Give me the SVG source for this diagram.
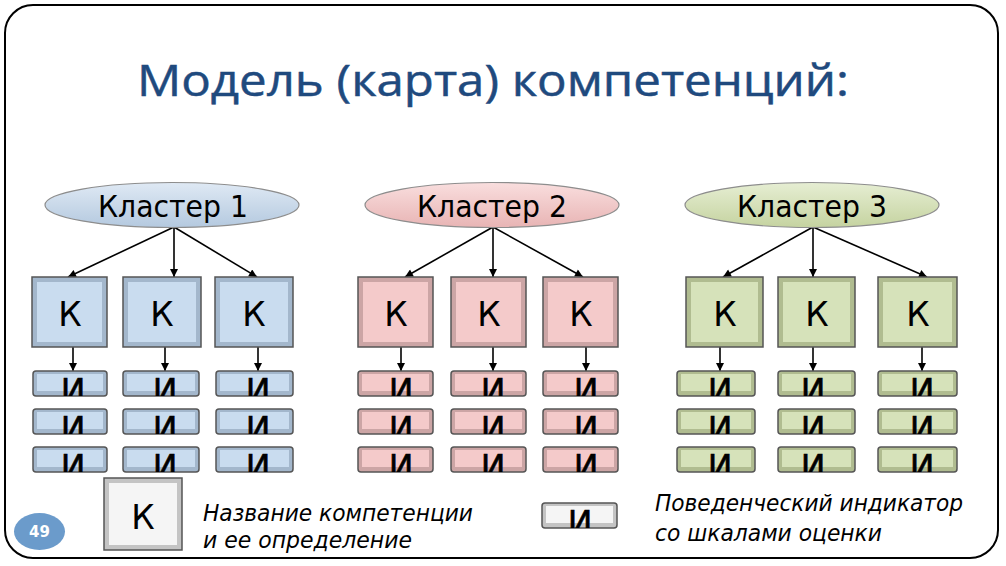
<svg xmlns="http://www.w3.org/2000/svg" width="1006" height="566" viewBox="0 0 1006 566">
<style>
.ctext{font-family:"DejaVu Sans",Verdana,sans-serif;font-size:30px;fill:#000;text-anchor:middle}
.ktext{font-family:"DejaVu Sans",Verdana,sans-serif;font-size:33px;fill:#000;text-anchor:middle}
.itext{font-family:"DejaVu Sans",Verdana,sans-serif;font-size:33px;fill:#000;text-anchor:middle;stroke:#000;stroke-width:0.6}
.leg{font-family:"DejaVu Sans",Verdana,sans-serif;font-size:23px;font-style:italic;fill:#000}
.ob{stroke:#555;stroke-width:1.5}
.ib{stroke:none}
.b .ob{fill:#a3b7cc}.b .ib{fill:#c9dcef}
.p .ob{fill:#cca5a5}.p .ib{fill:#f4caca}
.g .ob{fill:#b0bc90}.g .ib{fill:#d6e2ba}
.w .ob{fill:#c4c4c4}.w .ib{fill:#f5f5f5}
.conn line{stroke:#000;stroke-width:1.6;marker-end:url(#ah)}
.ell{stroke:#8d8d8d;stroke-width:1.2}
</style>
<defs>
<marker id="ah" viewBox="0 0 10 10" refX="10" refY="5" markerWidth="9" markerHeight="8" markerUnits="userSpaceOnUse" orient="auto">
<path d="M0,0 L10,5 L0,10 z" fill="#000"/>
</marker>
<linearGradient id="gb" x1="0" y1="0" x2="0" y2="1"><stop offset="0" stop-color="#dfe9f4"/><stop offset="1" stop-color="#b4c9df"/></linearGradient>
<linearGradient id="gp" x1="0" y1="0" x2="0" y2="1"><stop offset="0" stop-color="#f9dede"/><stop offset="1" stop-color="#e8b4b4"/></linearGradient>
<linearGradient id="gg" x1="0" y1="0" x2="0" y2="1"><stop offset="0" stop-color="#e6eed3"/><stop offset="1" stop-color="#c5d3a0"/></linearGradient>
<clipPath id="barclip">
<rect x="33" y="371" width="74" height="25"/><rect x="123" y="371" width="76" height="25"/><rect x="216" y="371" width="77" height="25"/>
<rect x="33" y="409" width="74" height="25"/><rect x="123" y="409" width="76" height="25"/><rect x="216" y="409" width="77" height="25"/>
<rect x="33" y="447" width="74" height="25"/><rect x="123" y="447" width="76" height="25"/><rect x="216" y="447" width="77" height="25"/>
<rect x="358" y="371" width="75" height="25"/><rect x="451" y="371" width="75" height="25"/><rect x="543" y="371" width="75" height="25"/>
<rect x="358" y="409" width="75" height="25"/><rect x="451" y="409" width="75" height="25"/><rect x="543" y="409" width="75" height="25"/>
<rect x="358" y="447" width="75" height="25"/><rect x="451" y="447" width="75" height="25"/><rect x="543" y="447" width="75" height="25"/>
<rect x="677" y="371" width="78" height="25"/><rect x="778" y="371" width="77" height="25"/><rect x="878" y="371" width="79" height="25"/>
<rect x="677" y="409" width="78" height="25"/><rect x="778" y="409" width="77" height="25"/><rect x="878" y="409" width="79" height="25"/>
<rect x="677" y="447" width="78" height="25"/><rect x="778" y="447" width="77" height="25"/><rect x="878" y="447" width="79" height="25"/>
<rect x="542" y="503" width="75" height="25"/>
</clipPath>
</defs>

<rect x="5" y="5" width="993" height="553" rx="28" ry="28" fill="#fff" stroke="#000" stroke-width="2"/>

<g id="title">
<text x="137" y="96" textLength="712" lengthAdjust="spacingAndGlyphs" style="font-family:'Open Sans','DejaVu Sans',sans-serif;font-size:44px;fill:#1f4a7e;stroke:#1f4a7e;stroke-width:0.5">Модель (карта) компетенций:</text>
</g>

<g id="connectors" class="conn">
<line x1="174" y1="227" x2="68" y2="277"/>
<line x1="174" y1="227" x2="174" y2="277"/>
<line x1="174" y1="227" x2="257" y2="277"/>
<line x1="493" y1="227" x2="405" y2="277"/>
<line x1="493" y1="227" x2="493" y2="277"/>
<line x1="493" y1="227" x2="583" y2="277"/>
<line x1="813" y1="227" x2="723" y2="277"/>
<line x1="813" y1="227" x2="813" y2="277"/>
<line x1="813" y1="227" x2="927" y2="277"/>
<line x1="73" y1="347" x2="73" y2="371"/>
<line x1="165" y1="347" x2="165" y2="371"/>
<line x1="258" y1="347" x2="258" y2="371"/>
<line x1="401" y1="347" x2="401" y2="371"/>
<line x1="493" y1="347" x2="493" y2="371"/>
<line x1="586" y1="347" x2="586" y2="371"/>
<line x1="720" y1="347" x2="720" y2="371"/>
<line x1="813" y1="347" x2="813" y2="371"/>
<line x1="922" y1="347" x2="922" y2="371"/>
</g>

<g id="cluster1">
<ellipse class="ell" cx="172" cy="205" rx="127" ry="22.5" fill="url(#gb)"/>
<text class="ctext" x="173" y="217" textLength="150" lengthAdjust="spacingAndGlyphs">Кластер 1</text>
</g>
<g id="cluster2">
<ellipse class="ell" cx="492" cy="205" rx="127" ry="22.5" fill="url(#gp)"/>
<text class="ctext" x="492" y="217" textLength="150" lengthAdjust="spacingAndGlyphs">Кластер 2</text>
</g>
<g id="cluster3">
<ellipse class="ell" cx="812" cy="205" rx="127" ry="22.5" fill="url(#gg)"/>
<text class="ctext" x="812" y="217" textLength="150" lengthAdjust="spacingAndGlyphs">Кластер 3</text>
</g>

<g id="k1-1" class="b"><rect class="ob" x="32" y="277" width="75" height="70"/><rect class="ib" x="37" y="282" width="65" height="60"/><text class="ktext" x="70" y="326">К</text></g>
<g id="k1-2" class="b"><rect class="ob" x="123" y="277" width="78" height="70"/><rect class="ib" x="128" y="282" width="68" height="60"/><text class="ktext" x="162" y="326">К</text></g>
<g id="k1-3" class="b"><rect class="ob" x="215" y="277" width="78" height="70"/><rect class="ib" x="220" y="282" width="68" height="60"/><text class="ktext" x="254" y="326">К</text></g>
<g id="k2-1" class="p"><rect class="ob" x="358" y="277" width="75" height="70"/><rect class="ib" x="363" y="282" width="65" height="60"/><text class="ktext" x="396" y="326">К</text></g>
<g id="k2-2" class="p"><rect class="ob" x="451" y="277" width="75" height="70"/><rect class="ib" x="456" y="282" width="65" height="60"/><text class="ktext" x="489" y="326">К</text></g>
<g id="k2-3" class="p"><rect class="ob" x="543" y="277" width="75" height="70"/><rect class="ib" x="548" y="282" width="65" height="60"/><text class="ktext" x="581" y="326">К</text></g>
<g id="k3-1" class="g"><rect class="ob" x="686" y="277" width="77" height="70"/><rect class="ib" x="691" y="282" width="67" height="60"/><text class="ktext" x="725" y="326">К</text></g>
<g id="k3-2" class="g"><rect class="ob" x="778" y="277" width="77" height="70"/><rect class="ib" x="783" y="282" width="67" height="60"/><text class="ktext" x="817" y="326">К</text></g>
<g id="k3-3" class="g"><rect class="ob" x="878" y="277" width="79" height="70"/><rect class="ib" x="883" y="282" width="69" height="60"/><text class="ktext" x="918" y="326">К</text></g>

<g id="bars1" class="b">
<rect class="ob" x="33" y="371" width="74" height="25" rx="3"/><rect class="ib" x="37" y="374" width="66" height="17"/>
<rect class="ob" x="123" y="371" width="76" height="25" rx="3"/><rect class="ib" x="127" y="374" width="68" height="17"/>
<rect class="ob" x="216" y="371" width="77" height="25" rx="3"/><rect class="ib" x="220" y="374" width="69" height="17"/>
<rect class="ob" x="33" y="409" width="74" height="25" rx="3"/><rect class="ib" x="37" y="412" width="66" height="17"/>
<rect class="ob" x="123" y="409" width="76" height="25" rx="3"/><rect class="ib" x="127" y="412" width="68" height="17"/>
<rect class="ob" x="216" y="409" width="77" height="25" rx="3"/><rect class="ib" x="220" y="412" width="69" height="17"/>
<rect class="ob" x="33" y="447" width="74" height="25" rx="3"/><rect class="ib" x="37" y="450" width="66" height="17"/>
<rect class="ob" x="123" y="447" width="76" height="25" rx="3"/><rect class="ib" x="127" y="450" width="68" height="17"/>
<rect class="ob" x="216" y="447" width="77" height="25" rx="3"/><rect class="ib" x="220" y="450" width="69" height="17"/>
</g>
<g id="bars2" class="p">
<rect class="ob" x="358" y="371" width="75" height="25" rx="3"/><rect class="ib" x="362" y="374" width="67" height="17"/>
<rect class="ob" x="451" y="371" width="75" height="25" rx="3"/><rect class="ib" x="455" y="374" width="67" height="17"/>
<rect class="ob" x="543" y="371" width="75" height="25" rx="3"/><rect class="ib" x="547" y="374" width="67" height="17"/>
<rect class="ob" x="358" y="409" width="75" height="25" rx="3"/><rect class="ib" x="362" y="412" width="67" height="17"/>
<rect class="ob" x="451" y="409" width="75" height="25" rx="3"/><rect class="ib" x="455" y="412" width="67" height="17"/>
<rect class="ob" x="543" y="409" width="75" height="25" rx="3"/><rect class="ib" x="547" y="412" width="67" height="17"/>
<rect class="ob" x="358" y="447" width="75" height="25" rx="3"/><rect class="ib" x="362" y="450" width="67" height="17"/>
<rect class="ob" x="451" y="447" width="75" height="25" rx="3"/><rect class="ib" x="455" y="450" width="67" height="17"/>
<rect class="ob" x="543" y="447" width="75" height="25" rx="3"/><rect class="ib" x="547" y="450" width="67" height="17"/>
</g>
<g id="bars3" class="g">
<rect class="ob" x="677" y="371" width="78" height="25" rx="3"/><rect class="ib" x="681" y="374" width="70" height="17"/>
<rect class="ob" x="778" y="371" width="77" height="25" rx="3"/><rect class="ib" x="782" y="374" width="69" height="17"/>
<rect class="ob" x="878" y="371" width="79" height="25" rx="3"/><rect class="ib" x="882" y="374" width="71" height="17"/>
<rect class="ob" x="677" y="409" width="78" height="25" rx="3"/><rect class="ib" x="681" y="412" width="70" height="17"/>
<rect class="ob" x="778" y="409" width="77" height="25" rx="3"/><rect class="ib" x="782" y="412" width="69" height="17"/>
<rect class="ob" x="878" y="409" width="79" height="25" rx="3"/><rect class="ib" x="882" y="412" width="71" height="17"/>
<rect class="ob" x="677" y="447" width="78" height="25" rx="3"/><rect class="ib" x="681" y="450" width="70" height="17"/>
<rect class="ob" x="778" y="447" width="77" height="25" rx="3"/><rect class="ib" x="782" y="450" width="69" height="17"/>
<rect class="ob" x="878" y="447" width="79" height="25" rx="3"/><rect class="ib" x="882" y="450" width="71" height="17"/>
</g>
<g id="legend-bar" class="w">
<rect class="ob" x="542" y="503" width="75" height="25" rx="3"/><rect class="ib" x="546" y="506" width="67" height="17"/>
</g>

<g id="bar-labels" clip-path="url(#barclip)">
<text class="itext" x="73" y="403">И</text><text class="itext" x="165" y="403">И</text><text class="itext" x="258" y="403">И</text>
<text class="itext" x="73" y="441">И</text><text class="itext" x="165" y="441">И</text><text class="itext" x="258" y="441">И</text>
<text class="itext" x="73" y="479">И</text><text class="itext" x="165" y="479">И</text><text class="itext" x="258" y="479">И</text>
<text class="itext" x="401" y="403">И</text><text class="itext" x="493" y="403">И</text><text class="itext" x="586" y="403">И</text>
<text class="itext" x="401" y="441">И</text><text class="itext" x="493" y="441">И</text><text class="itext" x="586" y="441">И</text>
<text class="itext" x="401" y="479">И</text><text class="itext" x="493" y="479">И</text><text class="itext" x="586" y="479">И</text>
<text class="itext" x="720" y="403">И</text><text class="itext" x="813" y="403">И</text><text class="itext" x="922" y="403">И</text>
<text class="itext" x="720" y="441">И</text><text class="itext" x="813" y="441">И</text><text class="itext" x="922" y="441">И</text>
<text class="itext" x="720" y="479">И</text><text class="itext" x="813" y="479">И</text><text class="itext" x="922" y="479">И</text>
<text class="itext" x="580" y="535">И</text>
</g>

<g id="legend-k" class="w">
<rect class="ob" x="104" y="478" width="78" height="72"/><rect class="ib" x="109" y="483" width="68" height="62"/>
<text class="ktext" x="143" y="529">К</text>
</g>
<g id="legend-k-text">
<text class="leg" x="203" y="521" textLength="270" lengthAdjust="spacingAndGlyphs">Название компетенции</text>
<text class="leg" x="203" y="548" textLength="209" lengthAdjust="spacingAndGlyphs">и ее определение</text>
</g>
<g id="legend-i-text">
<text class="leg" x="655" y="511" textLength="308" lengthAdjust="spacingAndGlyphs">Поведенческий индикатор</text>
<text class="leg" x="655" y="541" textLength="227" lengthAdjust="spacingAndGlyphs">со шкалами оценки</text>
</g>

<g id="page-number">
<ellipse cx="39.5" cy="531.5" rx="25.5" ry="18.5" fill="#6b9bcb"/>
<text x="39.5" y="537" text-anchor="middle" style="font-family:'DejaVu Sans',Verdana,sans-serif;font-size:15px;font-weight:bold;fill:#fff">49</text>
</g>
</svg>
